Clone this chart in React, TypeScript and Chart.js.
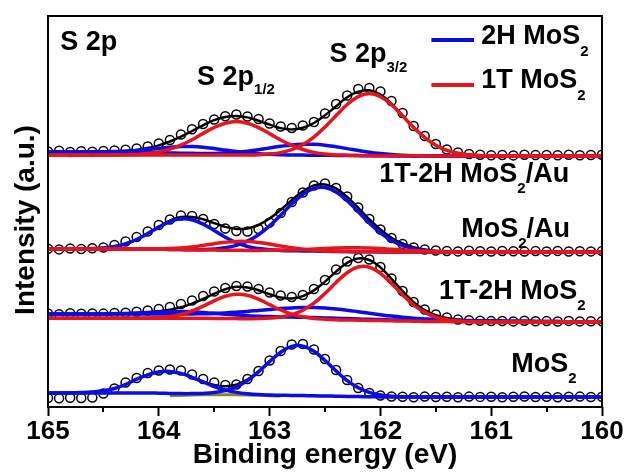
import React, { useEffect, useRef } from 'react';
import { Chart, registerables } from 'chart.js';

Chart.register(...registerables);

// ---------- data ----------
const energies = [165.0,164.9,164.8,164.7,164.6,164.5,164.4,164.3,164.2,164.1,164.0,163.9,163.8,163.7,163.6,163.5,163.4,163.3,163.2,163.1,163.0,162.9,162.8,162.7,162.6,162.5,162.4,162.3,162.2,162.1,162.0,161.9,161.8,161.7,161.6,161.5,161.4,161.3,161.2,161.1,161.0,160.9,160.8,160.7,160.6,160.5,160.4,160.3,160.2,160.1,160.0];

const xMajorTicks = [165, 164, 163, 162, 161, 160];
const xTickLabels = ['165', '164', '163', '162', '161', '160'];
const xMinorTicks = [164.5, 163.5, 162.5, 161.5, 160.5];

const legendLabels = ['2H MoS', '1T MoS'];
const yTitle = 'Intensity (a.u.)';
const xTitle = 'Binding energy (eV)';

// spectrum: MoS2 (bottom)
const offsetMoS2 = 10;
const bgMoS2 = [4,4,4,4,4,4,4,4,4,4, 3.8,3.6,3.4,3.2,3,2.8,2.6,2.4,2.2,2, 1.9,1.8,1.6,1.4,1.2,1,0.8,0.6,0.4,0.2, 0.1,0,0,0,0,0,0,0,0,0, 0,0,0,0,0,0,0,0,0,0, 0];
const circlesMoS2 = [-1.0,-1.2,-0.8,-1.0,-0.6, 3.5,8.5,14.5,19.0,24.0, 26.5,27.5,26.5,22.5,18.0, 14.5,12.0,12.5,18.0,26.0, 36.5,46.0,52.5,53.0,47.5, 38.0,27.0,17.0,9.0,4.0, 1.5,0.5,0.2,-0.3,0.4, 0.0,0.3,-0.2,0.4,0.1, 0.3,-0.2,0.2,0.5,0.0, 0.3,-0.3,0.2,0.4,0.0, 0.2];
const blue12MoS2 = [0,0,0.1,0.4,1.0,2.2,4.5,8.5,13.8,18.2, 21.2,22.0,20.2,16.5,12.0,7.7,4.4,2.2,1.0,0.4, 0.1,0,0,0,0,0,0,0,0,0, 0,0,0,0,0,0,0,0,0,0, 0,0,0,0,0,0,0,0,0,0, 0];
const blue32MoS2 = [0,0,0,0,0,0,0,0,0,0, 0,0,0,0.2,0.6,1.6,3.8,7.8,14.2,23.2, 33.5,43.0,49.0,49.5,44.5,35.5,25.2,15.8,8.9,4.4, 2.0,0.8,0.3,0.1,0,0,0,0,0,0, 0,0,0,0,0,0,0,0,0,0, 0];
const oliveMoS2 = [0,0,0,0,0,0,0,0,0,0, 0,1.2,1.6,2.0,2.2,2.3,2.3,2.2,2.0,1.7, 1.3,0.9,0,0,0,0,0,0,0,0, 0,0,0,0,0,0,0,0,0,0, 0,0,0,0,0,0,0,0,0,0, 0];

// spectrum: 1T-2H MoS2
const offset1T2H = 85;
const bg2H1T2H = [8,8,8,8,8,8,8,8,8,7.9, 7.8,7.6,7.4,7.2,6.9,6.6,6.3,6.0,5.7,5.5, 5.3,5.1,4.9,4.7,4.4,4.1,3.8,3.4,3.0,2.7, 2.4,2.1,1.9,1.7,1.6,1.5,1.4,1.3,1.2,1.1, 1.0,0.9,0.8,0.7,0.6,0.5,0.4,0.3,0.2,0.1, 0];
const bg1T1T2H = [3.7,3.7,3.7,3.7,3.7,3.7,3.7,3.7,3.7,3.7, 3.7,3.7,3.7,3.7,3.7,3.6,3.5,3.4,3.3,3.2, 3.1,3.0,2.9,2.8,2.6,2.4,2.2,2.0,1.8,1.6, 1.4,1.2,1.0,0.8,0.6,0.5,0.4,0.3,0.2,0.1, 0,0,0,0,0,0,0,0,0,0, 0];
const circles1T2H = [8.5,7.8,8.8,8.2,8.6, 8.4,9.0,9.3,10.2,11.5, 13.0,15.0,18.0,21.5,26.0, 30.5,34.0,36.0,35.5,33.0, 29.5,26.5,25.0,27.0,33.0, 42.0,52.5,60.5,64.0,62.5, 55.0,43.5,31.0,20.0,12.5, 7.5,4.5,2.5,1.8,1.2, 0.9,1.0,0.6,1.2,0.7, 0.9,0.5,1.1,0.6,0.8, 0.7];
const blue12_1T2H = [0,0,0,0,0,0.1,0.3,0.6,1.0,1.5, 2.1,2.6,3.0,3.0,2.6,2.1,1.5,1.0,0.6,0.3, 0.1,0,0,0,0,0,0,0,0,0, 0,0,0,0,0,0,0,0,0,0, 0,0,0,0,0,0,0,0,0,0, 0];
const blue32_1T2H = [0,0,0,0,0,0,0,0,0,0.1, 0.2,0.3,0.6,0.9,1.4,2.0,2.8,3.8,4.9,6.1, 7.3,8.4,9.2,9.8,10.0,9.8,9.2,8.4,7.3,6.1, 4.9,3.8,2.8,2.0,1.4,0.9,0.6,0.3,0.2,0.1, 0,0,0,0,0,0,0,0,0,0, 0];
const red12_1T2H = [0,0,0,0,0,0,0,0,0,0.2, 0.7,1.8,3.8,7.3,12.1,17.6,22.2,24.4,23.4,19.6, 14.3,9.1,5.0,2.4,1.0,0.4,0.1,0,0,0, 0,0,0,0,0,0,0,0,0,0, 0,0,0,0,0,0,0,0,0,0, 0];
const red32_1T2H = [0,0,0,0,0,0,0,0,0,0, 0,0,0,0,0,0,0,0,0,0.3, 0.8,1.9,4.4,9.0,16.2,26.1,37.3,47.3,53.2,53.2, 47.3,37.3,26.1,16.2,9.0,4.4,1.9,0.8,0.3,0, 0,0,0,0,0,0,0,0,0,0, 0];

// spectrum: MoS2/Au
const offsetMoS2Au = 155;
const bgMoS2Au = [3,3,3,3,3,3,3,3,3,2.9, 2.8,2.6,2.4,2.2,2.0,1.9,1.8,1.7,1.6,1.6, 1.5,1.4,1.3,1.1,0.9,0.7,0.5,0.4,0.3,0.2, 0.1,0,0,0,0,0,0,0,0,0, 0,0,0,0,0,0,0,0,0,0, 0];
const circlesMoS2Au = [3.2,2.6,3.4,3.0,3.8, 4.5,7.0,10.5,15.0,20.5, 27.0,32.5,36.5,36.0,33.0, 28.0,23.5,21.0,20.5,23.0, 29.5,39.0,50.0,59.5,66.5, 68.5,64.0,55.5,44.5,33.0, 22.5,14.0,8.0,4.5,2.5, 1.5,1.0,0.6,1.2,0.8, 0.5,1.0,0.7,0.4,0.9, 0.6,1.1,0.5,0.8,0.6, 0.9];
const blue12MoS2Au = [0,0,0,0,0.4,1.0,2.5,5.2,9.5,15.5, 22.1,27.8,30.8,30.0,25.8,19.5,13.0,7.6,3.9,1.8, 0.7,0.2,0,0,0,0,0,0,0,0, 0,0,0,0,0,0,0,0,0,0, 0,0,0,0,0,0,0,0,0,0, 0];
const blue32MoS2Au = [0,0,0,0,0,0,0,0,0,0, 0,0,0,0,0.4,1.1,2.4,4.9,9.2,15.7, 24.6,35.4,46.7,56.4,62.7,63.7,59.5,50.9,39.9,28.7, 19.0,11.5,6.4,3.3,1.5,0.6,0.2,0,0,0, 0,0,0,0,0,0,0,0,0,0, 0];
const red12MoS2Au = [0,0,0,0,0,0,0,0,0,0.2, 0.4,0.9,1.7,2.9,4.6,6.4,7.9,8.9,8.9,7.9, 6.4,4.6,2.9,1.7,0.9,0.4,0.2,0,0,0, 0,0,0,0,0,0,0,0,0,0, 0,0,0,0,0,0,0,0,0,0, 0];
const red32MoS2Au = [0,0,0,0,0,0,0,0,0,0, 0,0,0,0,0,0,0,0,0,0, 0.3,0.5,0.9,1.4,2.1,2.8,3.4,3.8,4.0,3.8, 3.4,2.8,2.1,1.4,0.9,0.5,0.3,0,0,0, 0,0,0,0,0,0,0,0,0,0, 0];

// spectrum: 1T-2H MoS2/Au (top)
const offsetTop = 251;
const bg2HTop = [4,4,4,4,4,4,4,3.9,3.8,3.6, 3.4,3.1,2.8,2.5,2.2,1.9,1.7,1.5,1.4,1.3, 1.2,1.1,1.0,0.9,0.8,0.7,0.6,0.5,0.4,0.3, 0.2,0.1,0,0,0,0,0,0,0,0, 0,0,0,0,0,0,0,0,0,0, 0];
const bg1TTop = [1,1,1,1,1,1,1,1,1,1, 1,1,1,1,1,0.9,0.9,0.9,0.8,0.8, 0.8,0.7,0.7,0.7,0.6,0.6,0.5,0.5,0.4,0.4, 0.3,0.3,0.2,0.2,0.1,0.1,0,0,0,0, 0,0,0,0,0,0,0,0,0,0, 0];
const circlesTop = [4.5,5.2,4.0,4.8,4.3, 5.0,5.5,6.3,7.5,9.6, 12.5,16.0,21.5,26.8,32.0, 36.5,39.8,41.5,39.5,37.0, 32.5,29.5,28.0,30.5,34.0, 42.5,52.0,60.5,67.0,68.0, 64.5,55.0,43.0,30.0,20.0, 12.0,6.5,3.5,2.0,1.2, 0.8,1.0,0.6,1.2,0.9, 1.1,0.7,1.3,0.8,1.0, 1.2];
const blue12Top = [0,0,0,0,0,0.2,0.5,0.9,1.7,2.9, 4.2,5.6,6.6,7.0,6.6,5.6,4.2,2.9,1.7,0.9, 0.5,0.2,0,0,0,0,0,0,0,0, 0,0,0,0,0,0,0,0,0,0, 0,0,0,0,0,0,0,0,0,0, 0];
const blue32Top = [0,0,0,0,0,0,0,0,0,0, 0,0,0,0.2,0.3,0.7,1.3,2.2,3.4,5.0, 6.9,8.6,10.1,10.9,10.9,10.1,8.6,6.9,5.0,3.4, 2.2,1.3,0.7,0.3,0.2,0,0,0,0,0, 0,0,0,0,0,0,0,0,0,0, 0];
const red12Top = [0,0,0,0,0,0,0,0.3,0.6,1.5, 3.0,5.8,9.9,15.3,21.6,27.6,31.9,33.5,31.9,27.6, 21.6,15.3,9.9,5.8,3.0,1.5,0.6,0.3,0,0, 0,0,0,0,0,0,0,0,0,0, 0,0,0,0,0,0,0,0,0,0, 0];
const red32Top = [0,0,0,0,0,0,0,0,0,0, 0,0,0,0,0,0,0,0,0.2,0.5, 1.2,2.7,5.6,10.7,18.3,28.4,39.9,51.0,59.0,62.0, 59.0,51.0,39.9,28.4,18.3,10.7,5.6,2.7,1.2,0.5, 0.2,0,0,0,0,0,0,0,0,0, 0];

// ---------- styling ----------
const FONT = "'Liberation Sans', Arial, Helvetica, sans-serif";
const BLUE = '#0c0ce8';
const RED = '#e8141c';
const OLIVE = '#8a8a10';

type Part = { t: string; sub?: boolean; subOffset?: number };

function drawRich(ctx: CanvasRenderingContext2D, x: number, y: number, parts: Part[]) {
  let cx = x;
  for (const p of parts) {
    if (p.sub) {
      ctx.font = `bold 15px ${FONT}`;
      ctx.fillText(p.t, cx, y + (p.subOffset ?? 14));
    } else {
      ctx.font = `bold 27px ${FONT}`;
      ctx.fillText(p.t, cx, y);
    }
    cx += ctx.measureText(p.t).width;
  }
}

function compDataset(h: number[], offset: number, bg: number[], color: string, order: number) {
  return {
    data: energies.map((x, i) => ({ x, y: offset + bg[i] + h[i] })),
    borderColor: color,
    borderWidth: 3.5,
    pointRadius: 0,
    pointHoverRadius: 0,
    fill: false,
    tension: 0.4,
    order,
  };
}

function fitDataset(offset: number, bg: number[], comps: number[][]) {
  return {
    data: energies.map((x, i) => ({ x, y: offset + bg[i] + comps.reduce((s, c) => s + c[i], 0) })),
    borderColor: '#000',
    borderWidth: 2.5,
    pointRadius: 0,
    pointHoverRadius: 0,
    fill: false,
    tension: 0.4,
    order: 6,
  };
}

function circleDataset(offset: number, c: number[]) {
  return {
    data: energies.map((x, i) => ({ x, y: offset + c[i] })),
    showLine: false,
    borderColor: '#000',
    pointRadius: 4.5,
    pointBorderWidth: 1.5,
    pointBorderColor: '#000',
    pointBackgroundColor: '#fff',
    pointHoverRadius: 4.5,
    order: 10,
  };
}

function oliveDataset(offset: number, h: number[]) {
  return {
    data: energies.map((x, i) => ({ x, y: h[i] > 0 ? offset + h[i] : null })),
    borderColor: OLIVE,
    borderWidth: 3,
    pointRadius: 0,
    fill: false,
    tension: 0.4,
    spanGaps: false,
    order: 5,
  };
}

const framePlugin = {
  id: 'frameAndText',
  afterDraw(chart: any) {
    const { ctx, chartArea: a, scales } = chart;
    const xs = scales.x;
    const ys = scales.y;
    const X = (v: number) => xs.getPixelForValue(v);
    const Y = (v: number) => ys.getPixelForValue(v);
    ctx.save();
    // frame
    ctx.strokeStyle = '#000';
    ctx.lineWidth = 2;
    ctx.strokeRect(a.left, a.top, a.right - a.left, a.bottom - a.top);
    // minor ticks
    ctx.beginPath();
    for (const v of xMinorTicks) {
      const px = Math.round(X(v));
      ctx.moveTo(px, a.bottom);
      ctx.lineTo(px, a.bottom + 5);
    }
    ctx.stroke();

    // y axis title
    ctx.save();
    ctx.fillStyle = '#000';
    ctx.font = `bold 28px ${FONT}`;
    ctx.textAlign = 'center';
    ctx.textBaseline = 'middle';
    ctx.translate(a.left - 22, Y(187));
    ctx.rotate(-Math.PI / 2);
    ctx.fillText(yTitle, 0, 0);
    ctx.restore();

    ctx.fillStyle = '#000';
    ctx.textBaseline = 'middle';
    ctx.textAlign = 'left';
    drawRich(ctx, X(164.89), Y(364), [{ t: 'S 2p' }]);
    drawRich(ctx, X(163.655), Y(329), [{ t: 'S 2p' }, { t: '1/2', sub: true, subOffset: 12 }]);
    drawRich(ctx, X(162.46), Y(352), [{ t: 'S 2p' }, { t: '3/2', sub: true, subOffset: 13 }]);
    drawRich(ctx, X(162.01), Y(232), [{ t: '1T-2H MoS' }, { t: '2', sub: true }, { t: '/Au' }]);
    drawRich(ctx, X(161.27), Y(177), [{ t: 'MoS' }, { t: '2', sub: true }, { t: '/Au' }]);
    drawRich(ctx, X(161.47), Y(115), [{ t: '1T-2H MoS' }, { t: '2', sub: true }]);
    drawRich(ctx, X(160.82), Y(42), [{ t: 'MoS' }, { t: '2', sub: true }]);

    // legend
    const legendItems = [
      { label: legendLabels[0], color: BLUE, yLine: 367, yText: 370 },
      { label: legendLabels[1], color: RED, yLine: 322, yText: 326 },
    ];
    for (const it of legendItems) {
      ctx.strokeStyle = it.color;
      ctx.lineWidth = 4;
      ctx.beginPath();
      ctx.moveTo(X(161.54), Y(it.yLine));
      ctx.lineTo(X(161.155), Y(it.yLine));
      ctx.stroke();
      ctx.fillStyle = '#000';
      drawRich(ctx, X(161.09), Y(it.yText), [{ t: it.label }, { t: '2', sub: true, subOffset: 15 }]);
    }
    ctx.restore();
  },
};

export default function App() {
  const canvasRef = useRef<HTMLCanvasElement | null>(null);

  useEffect(() => {
    document.body.style.margin = '0';
    const canvas = canvasRef.current;
    if (!canvas) return;

    const datasets: any[] = [
      // MoS2
      circleDataset(offsetMoS2, circlesMoS2),
      fitDataset(offsetMoS2, bgMoS2, [blue12MoS2, blue32MoS2]),
      oliveDataset(offsetMoS2, oliveMoS2),
      compDataset(blue12MoS2, offsetMoS2, bgMoS2, BLUE, 3),
      compDataset(blue32MoS2, offsetMoS2, bgMoS2, BLUE, 3),
      // 1T-2H MoS2
      circleDataset(offset1T2H, circles1T2H),
      fitDataset(offset1T2H, bg2H1T2H, [blue12_1T2H, blue32_1T2H, red12_1T2H, red32_1T2H]),
      compDataset(blue12_1T2H, offset1T2H, bg2H1T2H, BLUE, 3),
      compDataset(blue32_1T2H, offset1T2H, bg2H1T2H, BLUE, 3),
      compDataset(red12_1T2H, offset1T2H, bg1T1T2H, RED, 2),
      compDataset(red32_1T2H, offset1T2H, bg1T1T2H, RED, 2),
      // MoS2/Au
      circleDataset(offsetMoS2Au, circlesMoS2Au),
      fitDataset(offsetMoS2Au, bgMoS2Au, [blue12MoS2Au, blue32MoS2Au, red12MoS2Au, red32MoS2Au]),
      compDataset(blue12MoS2Au, offsetMoS2Au, bgMoS2Au, BLUE, 3),
      compDataset(blue32MoS2Au, offsetMoS2Au, bgMoS2Au, BLUE, 3),
      compDataset(red12MoS2Au, offsetMoS2Au, bgMoS2Au, RED, 2),
      compDataset(red32MoS2Au, offsetMoS2Au, bgMoS2Au, RED, 2),
      // 1T-2H MoS2/Au
      circleDataset(offsetTop, circlesTop),
      fitDataset(offsetTop, bg2HTop, [blue12Top, blue32Top, red12Top, red32Top]),
      compDataset(blue12Top, offsetTop, bg2HTop, BLUE, 3),
      compDataset(blue32Top, offsetTop, bg2HTop, BLUE, 3),
      compDataset(red12Top, offsetTop, bg1TTop, RED, 2),
      compDataset(red32Top, offsetTop, bg1TTop, RED, 2),
    ];

    const chart = new Chart(canvas, {
      type: 'line',
      data: { datasets },
      options: {
        animation: false,
        responsive: false,
        devicePixelRatio: 1,
        events: [],
        layout: { padding: { top: 16, right: 26, left: 0, bottom: 0 } },
        plugins: {
          legend: { display: false },
          tooltip: { enabled: false },
        },
        scales: {
          x: {
            type: 'linear',
            reverse: true,
            min: 160,
            max: 165,
            afterBuildTicks: (s: any) => {
              s.ticks = [...xMajorTicks, ...xMinorTicks].sort((p, q) => q - p).map((v) => ({ value: v }));
            },
            afterFit: (s: any) => {
              s.height = 65;
            },
            ticks: {
              autoSkip: false,
              maxRotation: 0,
              padding: 0,
              color: '#000',
              font: { family: FONT, size: 26, weight: 'bold' },
              callback: (v: any) => {
                const idx = xMajorTicks.indexOf(Number(v));
                return idx >= 0 ? xTickLabels[idx] : '';
              },
            },
            grid: {
              drawOnChartArea: false,
              drawTicks: true,
              tickLength: 9,
              tickWidth: 2,
              tickColor: (c: any) => (xMajorTicks.includes(c.tick?.value) ? '#000' : 'rgba(0,0,0,0)'),
            },
            border: { display: false },
            title: {
              display: true,
              text: xTitle,
              color: '#000',
              font: { family: FONT, size: 28, weight: 'bold' },
              padding: { top: 0, bottom: 0 },
            },
          },
          y: {
            type: 'linear',
            min: 0,
            max: 391,
            afterFit: (s: any) => {
              s.width = 48;
            },
            ticks: { display: false },
            grid: { display: false },
            border: { display: false },
            title: { display: false },
          },
        },
      },
      plugins: [framePlugin],
    } as any);

    return () => chart.destroy();
  }, []);

  return (
    <div style={{ width: 628, height: 472 }}>
      <canvas ref={canvasRef} width={628} height={472} style={{ display: 'block' }} />
    </div>
  );
}
